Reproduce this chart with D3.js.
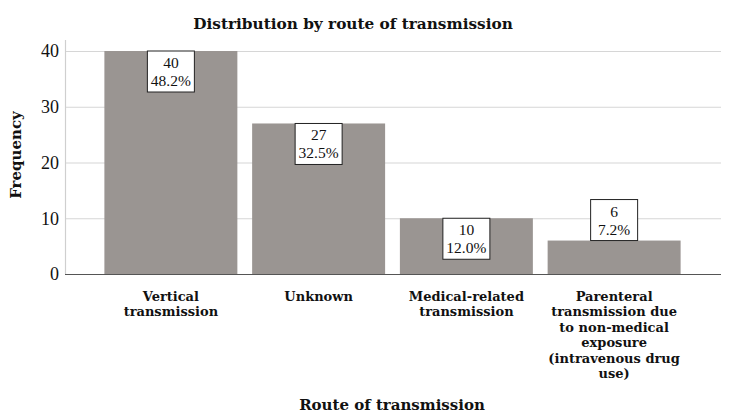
<!DOCTYPE html>
<html>
<head>
<meta charset="utf-8">
<script src="https://cdn.jsdelivr.net/npm/d3@7"></script>
<style>
  body { margin: 0; background: #fff; }
  svg text { font-family: "Liberation Serif", "DejaVu Serif", serif; fill: #111; }
  svg text.bold { font-family: "DejaVu Serif", serif; font-weight: bold; }
</style>
</head>
<body>
<div id="chart"></div>
<script>
// Data
var categories = [
    ["Vertical", "transmission"],
    ["Unknown"],
    ["Medical-related", "transmission"],
    ["Parenteral", "transmission due", "to non-medical", "exposure", "(intravenous drug", "use)"]
];
var counts = [40, 27, 10, 6];
var percents = ["48.2%", "32.5%", "12.0%", "7.2%"];
var yTicks = [0, 10, 20, 30, 40];

var width = 729, height = 419;
var plot = {left: 65, right: 721, top: 51, bottom: 274};

var svg = d3.select("#chart")
    .append("svg")
    .attr("width", width)
    .attr("height", height);

var x = d3.scaleBand()
    .domain(d3.range(counts.length))
    .range([97, 688])
    .paddingInner(0.1)
    .paddingOuter(0.05);

var y = d3.scaleLinear()
    .domain([0, 40])
    .range([plot.bottom, plot.top]);

// gridlines
svg.append("g").selectAll("line")
    .data(yTicks.slice(1))
    .join("line")
    .attr("x1", plot.left)
    .attr("x2", plot.right)
    .attr("y1", d => y(d) + 0.5)
    .attr("y2", d => y(d) + 0.5)
    .attr("stroke", "#d6d6d6")
    .attr("stroke-width", 1.2);

// y axis
var yAxis = svg.append("g")
    .attr("transform", "translate(" + plot.left + ",0)")
    .call(d3.axisLeft(y).tickValues(yTicks).tickSize(0).tickPadding(6));
yAxis.select(".domain").remove();
yAxis.selectAll("text")
    .style("font-size", "18px")
    .attr("fill", "#111");
svg.append("line")
    .attr("x1", plot.left + 0.5).attr("x2", plot.left + 0.5)
    .attr("y1", 40).attr("y2", plot.bottom)
    .attr("stroke", "#cfcfcf").attr("stroke-width", 1.2);

// bars
svg.append("g").selectAll("rect")
    .data(counts)
    .join("rect")
    .attr("x", (d, i) => x(i))
    .attr("y", d => y(d))
    .attr("width", x.bandwidth())
    .attr("height", d => y(0) - y(d))
    .attr("fill", "#9a9592");

// x axis line
svg.append("line")
    .attr("x1", plot.left).attr("x2", plot.right)
    .attr("y1", plot.bottom + 0.5).attr("y2", plot.bottom + 0.5)
    .attr("stroke", "#555").attr("stroke-width", 1.2);

// value labels (box sits on top of the bar when the bar is too short)
var boxW = 47, boxH = 41;
var labels = svg.append("g").selectAll("g")
    .data(counts)
    .join("g")
    .attr("transform", function (d, i) {
        var top = y(d);
        if (y(0) - y(d) < boxH) top = y(d) - boxH;
        return "translate(" + (x(i) + x.bandwidth() / 2) + "," + top + ")";
    });
labels.append("rect")
    .attr("x", -boxW / 2)
    .attr("y", 0)
    .attr("width", boxW)
    .attr("height", boxH)
    .attr("fill", "#fff")
    .attr("stroke", "#222")
    .attr("stroke-width", 1);
labels.append("text")
    .attr("text-anchor", "middle")
    .attr("y", 17)
    .style("font-size", "15.5px")
    .text(d => d);
labels.append("text")
    .attr("text-anchor", "middle")
    .attr("y", 35)
    .style("font-size", "15.5px")
    .text((d, i) => percents[i]);

// category labels
var cat = svg.append("g").selectAll("text")
    .data(categories)
    .join("text")
    .attr("class", "bold")
    .attr("text-anchor", "middle")
    .attr("x", (d, i) => x(i) + x.bandwidth() / 2)
    .attr("y", 301)
    .style("font-size", "13px");
cat.selectAll("tspan")
    .data(d => d)
    .join("tspan")
    .attr("x", function () { return d3.select(this.parentNode).attr("x"); })
    .attr("dy", (d, i) => i === 0 ? 0 : 15.4)
    .text(d => d);

// titles
svg.append("text")
    .attr("class", "bold")
    .attr("x", 353)
    .attr("y", 29)
    .attr("text-anchor", "middle")
    .style("font-size", "15.3px")
    .text("Distribution by route of transmission");

svg.append("text")
    .attr("class", "bold")
    .attr("transform", "translate(21,155) rotate(-90)")
    .attr("text-anchor", "middle")
    .style("font-size", "15px")
    .text("Frequency");

svg.append("text")
    .attr("class", "bold")
    .attr("x", 392)
    .attr("y", 410)
    .attr("text-anchor", "middle")
    .style("font-size", "15px")
    .text("Route of transmission");
</script>
</body>
</html>
